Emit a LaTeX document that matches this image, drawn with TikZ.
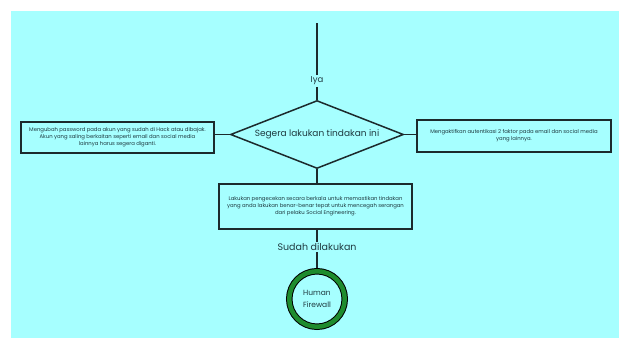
\documentclass[tikz,border=0pt]{standalone}
\usepackage{fontspec}
\setmainfont{Poppins}
\usetikzlibrary{shapes.geometric}
\definecolor{bgcyan}{HTML}{A6FFFF}
\definecolor{linec}{HTML}{1C2A2C}
\definecolor{txtc}{HTML}{1F3A40}
\definecolor{ringgreen}{HTML}{1E8C2E}
\tikzset{
  conn/.style={draw=linec, line width=1.3pt},
  infobox/.style={rectangle, draw=linec, line width=1.5pt, fill=bgcyan, align=center,
    text=txtc, font=\fontsize{5.3}{7}\selectfont, inner sep=0pt},
  lbl/.style={text=txtc, inner sep=1.5pt, fill=bgcyan},
}
\begin{document}
\begin{tikzpicture}[x=1pt,y=-1pt]
\useasboundingbox (0,0) rectangle (619,338);
\fill[white] (0,0) rectangle (619,338);
\fill[bgcyan] (11,11) rectangle (619,338);

\coordinate (top) at (317,23);
\node[lbl, font=\fontsize{8.5}{10}\selectfont] (iya) at (317,81) {Iya};
\node[diamond, draw=linec, line width=1.5pt, fill=bgcyan, minimum width=173pt, minimum height=68pt, inner sep=0pt] (dia) at (317,134.5) {};
\node[text=txtc, font=\fontsize{9}{11}\selectfont] at (dia) {Segera lakukan tindakan ini};

\node[infobox, minimum width=193pt, minimum height=31pt] (lbox) at (117.5,137.5)
  {Mengubah password pada akun yang sudah di Hack atau dibajak.\\Akun yang saling berkaitan seperti email dan social media\\lainnya harus segera diganti.};
\node[infobox, minimum width=194pt, minimum height=32pt] (rbox) at (514,136)
  {Mengaktifkan autentikasi 2 faktor pada email dan social media\\yang lainnya.};
\node[infobox, minimum width=193pt, minimum height=45pt] (bbox) at (315.5,206.5)
  {Lakukan pengecekan secara berkala untuk memastikan tindakan\\yang anda lakukan benar-benar tepat untuk mencegah serangan\\dari pelaku Social Engineering.};

\node[lbl, font=\fontsize{9.5}{11}\selectfont] (sudah) at (317,247) {Sudah dilakukan};

\node[circle, draw=black, line width=1pt, double=ringgreen, double distance=4.5pt,
  fill=bgcyan, minimum size=55.5pt, inner sep=0pt, outer sep=3.25pt, align=center,
  text=txtc, font=\fontsize{7.5}{12}\selectfont] (hf) at (317,299) {Human\\Firewall};

\draw[conn] (top) -- (iya.north);
\draw[conn] (iya.south) -- (dia.north);
\draw[conn] (dia.west) -- (dia.west -| lbox.east);
\draw[conn] (dia.east) -- (dia.east -| rbox.west);
\draw[conn] (dia.south) -- (dia.south |- bbox.north);
\draw[conn] (sudah.north |- bbox.south) -- (sudah.north);
\draw[conn] (sudah.south) -- (hf.north);
\end{tikzpicture}
\end{document}
